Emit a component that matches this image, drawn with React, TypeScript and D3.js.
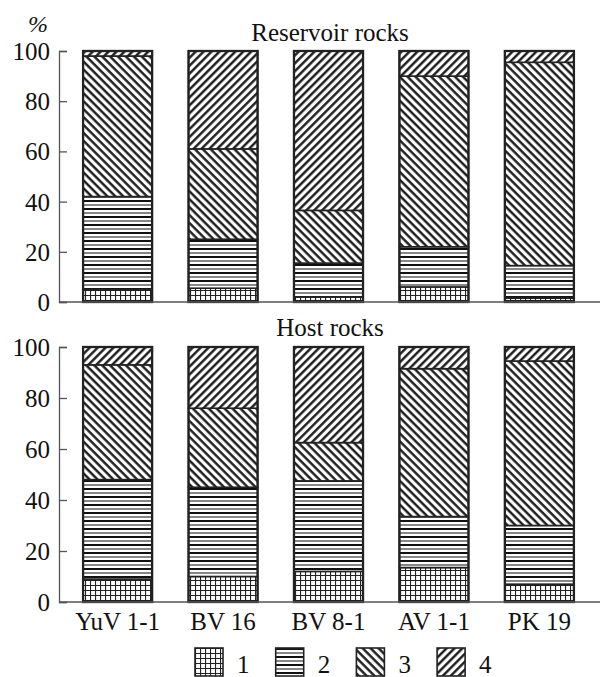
import React, { useRef, useEffect } from 'react'
import * as d3 from 'd3'

const wells = ['YuV 1-1', 'BV 16', 'BV 8-1', 'AV 1-1', 'PK 19']
const types = ['1', '2', '3', '4']
const yTicks = [0, 20, 40, 60, 80, 100]

// % of each type, per well
const reservoir1 = [5, 5.5, 2, 6, 1.5]
const reservoir2 = [37, 19.5, 13.5, 16, 13]
const reservoir3 = [56, 36, 21, 68, 81]
const reservoir4 = [2, 39, 63.5, 10, 4.5]

const host1 = [9, 10, 12, 13.5, 7]
const host2 = [39, 35, 35.5, 20, 23]
const host3 = [45, 31, 15, 58, 64.5]
const host4 = [7, 24, 37.5, 8.5, 5.5]

const panels = [
  { title: 'Reservoir rocks', series: [reservoir1, reservoir2, reservoir3, reservoir4], top: 51, bottom: 302, titleY: 41 },
  { title: 'Host rocks', series: [host1, host2, host3, host4], top: 347, bottom: 602, titleY: 336 },
]

const font = '"Liberation Serif", "Times New Roman", serif'

export default function App() {
  const ref = useRef(null)

  useEffect(() => {
    const svg = d3.select(ref.current)
    svg.selectAll('*').remove()

    const defs = svg.append('defs')
    const grid = defs.append('pattern').attr('id', 'p1').attr('patternUnits', 'userSpaceOnUse').attr('width', 5).attr('height', 5)
    grid.append('rect').attr('width', 5).attr('height', 5).attr('fill', '#fff')
    grid.append('path').attr('d', 'M0,0.5H5M0.5,0V5').attr('stroke', '#222').attr('stroke-width', 1.2)

    const horiz = defs.append('pattern').attr('id', 'p2').attr('patternUnits', 'userSpaceOnUse').attr('width', 8).attr('height', 8)
    horiz.append('rect').attr('width', 8).attr('height', 8).attr('fill', '#fff')
    horiz.append('path').attr('d', 'M0,1H8').attr('stroke', '#111').attr('stroke-width', 2)
    horiz.append('path').attr('d', 'M0,5H8').attr('stroke', '#555').attr('stroke-width', 1.4)

    const hatch = (id, angle) => {
      const p = defs.append('pattern').attr('id', id).attr('patternUnits', 'userSpaceOnUse')
        .attr('width', 5.6).attr('height', 5.6).attr('patternTransform', `rotate(${angle})`)
      p.append('rect').attr('width', 5.6).attr('height', 5.6).attr('fill', '#fff')
      p.append('path').attr('d', 'M0,1.3H5.6').attr('stroke', '#111').attr('stroke-width', 2.3)
    }
    hatch('p3', 45)
    hatch('p4', -45)

    const x = d3.scaleBand().domain(wells).range([62, 595]).paddingInner(0.345).paddingOuter(0.2)

    panels.forEach(panel => {
      const y = d3.scaleLinear().domain([0, 100]).range([panel.bottom, panel.top])
      const g = svg.append('g')

      const rows = wells.map((w, i) => {
        const row = { well: w }
        types.forEach((t, k) => { row[t] = panel.series[k][i] })
        return row
      })
      const stacked = d3.stack().keys(types)(rows)

      stacked.forEach((layer, k) => {
        g.selectAll(null).data(layer).enter().append('rect')
          .attr('x', d => x(d.data.well))
          .attr('width', x.bandwidth())
          .attr('y', d => y(d[1]))
          .attr('height', d => y(d[0]) - y(d[1]))
          .attr('fill', `url(#p${k + 1})`)
          .attr('stroke', '#222')
          .attr('stroke-width', 1.6)
      })
      // outer frame of each bar
      g.selectAll(null).data(wells).enter().append('rect')
        .attr('x', d => x(d)).attr('width', x.bandwidth())
        .attr('y', y(100)).attr('height', y(0) - y(100))
        .attr('fill', 'none').attr('stroke', '#222').attr('stroke-width', 2.3)

      // axes
      g.append('line').attr('x1', 59).attr('x2', 600).attr('y1', y(0)).attr('y2', y(0)).attr('stroke', '#555').attr('stroke-width', 1.3)
      const yAxis = g.append('g').attr('transform', 'translate(59,0)')
        .call(d3.axisRight(y).tickValues(yTicks).tickSize(8).tickFormat(d3.format('d')))
      yAxis.select('.domain').attr('stroke', '#555').attr('stroke-width', 1.3)
      yAxis.selectAll('line').attr('stroke', '#555').attr('stroke-width', 1.3)
      yAxis.selectAll('text').attr('x', -9).attr('text-anchor', 'end').attr('dy', '0.34em')
        .attr('font-family', font).attr('font-size', 25).attr('fill', '#111')

      g.append('text').attr('x', 330).attr('y', panel.titleY).attr('text-anchor', 'middle')
        .attr('font-family', font).attr('font-size', 25).attr('fill', '#111').text(panel.title)
    })

    svg.append('text').attr('x', 38).attr('y', 32).attr('text-anchor', 'middle')
      .attr('font-family', font).attr('font-style', 'italic').attr('font-size', 24).attr('fill', '#111').text('%')

    svg.selectAll(null).data(wells).enter().append('text')
      .attr('x', d => x(d) + x.bandwidth() / 2).attr('y', 630).attr('text-anchor', 'middle')
      .attr('font-family', font).attr('font-size', 25).attr('fill', '#111').text(d => d)

    const legend = svg.selectAll(null).data(types).enter().append('g')
      .attr('transform', (d, i) => `translate(${195 + i * 80.7},648)`)
    legend.append('rect').attr('width', 28).attr('height', 28)
      .attr('fill', (d, i) => `url(#p${i + 1})`).attr('stroke', '#222').attr('stroke-width', 1.6)
    legend.append('text').attr('x', 42).attr('y', 25).attr('font-family', font).attr('font-size', 25).attr('fill', '#111').text(d => d)
  }, [])

  return (
    <svg ref={ref} width={600} height={677} style={{ position: 'absolute', left: 0, top: 0, background: '#fff' }} />
  )
}
